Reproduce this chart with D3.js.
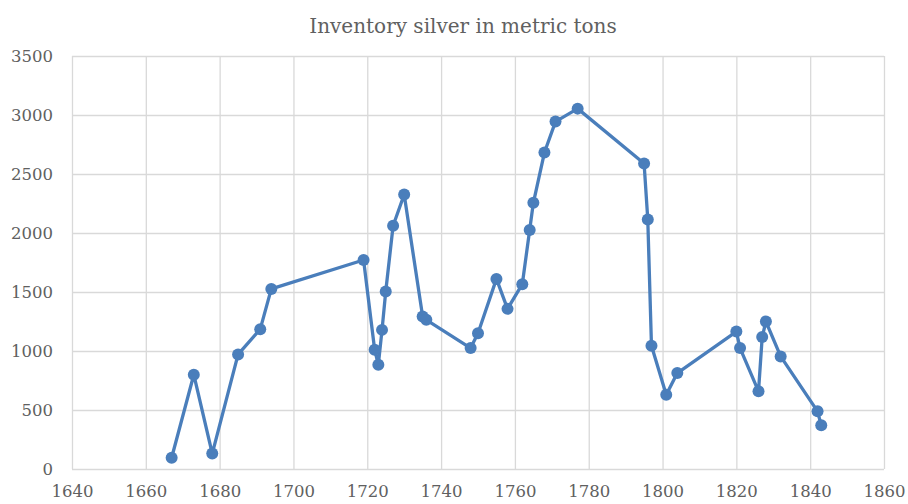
<!DOCTYPE html>
<html>
<head>
<meta charset="utf-8">
<script src="https://cdn.jsdelivr.net/npm/d3@7"></script>
<style>
  body { margin: 0; background: #fff; }
  .tick text { font-family: "DejaVu Serif", serif; fill: #606060; }
</style>
</head>
<body>
<script>
// silver inventory
var years = [1667, 1673, 1678, 1685, 1691, 1694, 1719, 1722, 1723, 1724, 1725, 1727, 1730,
             1735, 1736, 1748, 1750, 1755, 1758, 1762, 1764, 1765, 1768, 1771, 1777, 1795,
             1796, 1797, 1801, 1804, 1820, 1821, 1826, 1827, 1828, 1832, 1842, 1843];
var tons = [95, 799, 131, 971, 1185, 1526, 1771, 1010, 884, 1179, 1504, 2061, 2326,
            1292, 1264, 1025, 1151, 1611, 1357, 1566, 2025, 2256, 2682, 2944, 3054, 2589,
            2115, 1044, 630, 813, 1165, 1025, 658, 1118, 1250, 954, 489, 370];
var xTicks = [1640, 1660, 1680, 1700, 1720, 1740, 1760, 1780, 1800, 1820, 1840, 1860];
var yTicks = [0, 500, 1000, 1500, 2000, 2500, 3000, 3500];

var data = years.map(function(y, i){ return {year: y, tons: tons[i]}; });

var margin = {top: 56, right: 24, bottom: 35, left: 72},
    width = 908 - margin.left - margin.right,
    height = 504 - margin.top - margin.bottom;

var svg = d3.select("body").append("svg")
    .attr("width", 908)
    .attr("height", 504);

var g = svg.append("g")
    .attr("transform", "translate(" + margin.left + "," + margin.top + ")");

var x = d3.scaleLinear().domain([1640, 1860]).range([0, width]);
var y = d3.scaleLinear().domain([0, 3500]).range([height, 0]);

// gridlines
g.append("g")
    .call(d3.axisLeft(y).tickValues(yTicks).tickSize(-width).tickFormat(""))
    .call(function(s){ s.select(".domain").remove(); })
    .selectAll("line").attr("stroke", "#d9d9d9").attr("stroke-width", 1.3);

g.append("g")
    .attr("transform", "translate(0," + height + ")")
    .call(d3.axisBottom(x).tickValues(xTicks).tickSize(height).tickFormat(""))
    .call(function(s){ s.select(".domain").remove(); })
    .selectAll("line").attr("transform", "translate(0," + (-height) + ")")
    .attr("stroke", "#d9d9d9").attr("stroke-width", 1.3);

// axis labels
g.append("g")
    .call(d3.axisLeft(y).tickValues(yTicks).tickSize(0).tickPadding(19).tickFormat(d3.format("d")))
    .call(function(s){ s.select(".domain").remove(); })
    .selectAll("text").attr("font-size", 16.5);

g.append("g")
    .attr("transform", "translate(0," + height + ")")
    .call(d3.axisBottom(x).tickValues(xTicks).tickSize(0).tickPadding(16).tickFormat(d3.format("d")))
    .call(function(s){ s.select(".domain").remove(); })
    .selectAll("text").attr("font-size", 16.5);

// series
var line = d3.line()
    .x(function(d){ return x(d.year); })
    .y(function(d){ return y(d.tons); });

g.append("path")
    .datum(data)
    .attr("fill", "none")
    .attr("stroke", "#4a7ebb")
    .attr("stroke-width", 3.3)
    .attr("stroke-linejoin", "round")
    .attr("d", line);

g.selectAll(".dot")
    .data(data)
    .enter().append("circle")
    .attr("class", "dot")
    .attr("cx", function(d){ return x(d.year); })
    .attr("cy", function(d){ return y(d.tons); })
    .attr("r", 6)
    .attr("fill", "#4a7ebb");

// title
svg.append("text")
    .attr("x", 463)
    .attr("y", 33)
    .attr("text-anchor", "middle")
    .attr("font-family", "DejaVu Serif, serif")
    .attr("font-size", 20)
    .attr("fill", "#606060")
    .text("Inventory silver in metric tons");
</script>
</body>
</html>
